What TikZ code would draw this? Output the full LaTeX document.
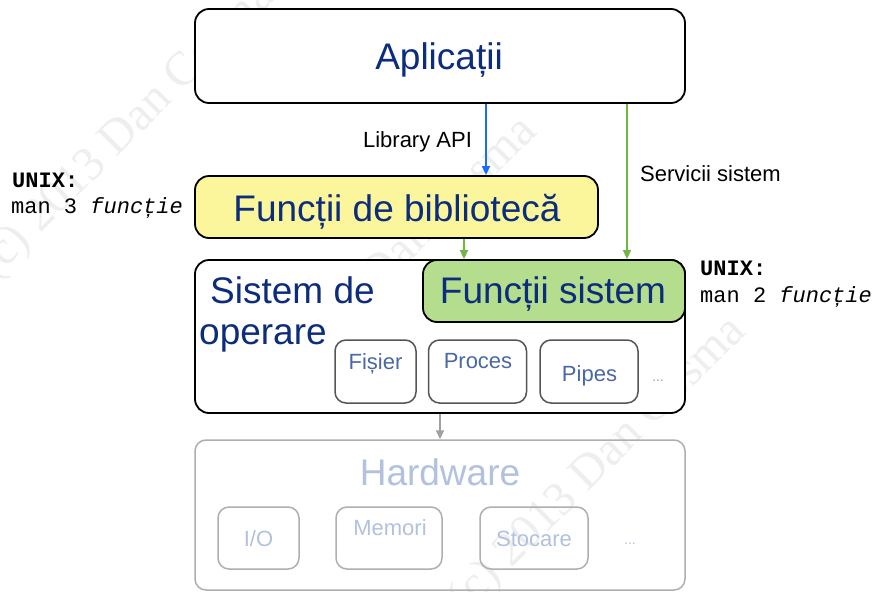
\documentclass[tikz,border=0pt]{standalone}
\usepackage{fontspec}
\setmainfont{Liberation Sans}
\setmonofont{Liberation Mono}
\newfontfamily\wmfont{Liberation Serif}
\usetikzlibrary{arrows.meta}
\definecolor{navy}{RGB}{12,44,124}
\definecolor{midblue}{RGB}{74,104,165}
\definecolor{hwtext}{RGB}{178,193,222}
\definecolor{yellowfill}{RGB}{251,246,155}
\definecolor{greenfill}{RGB}{180,221,142}
\definecolor{arrblue}{RGB}{26,108,255}
\definecolor{arrgreen}{RGB}{112,184,64}
\definecolor{arrgray}{RGB}{160,160,160}
\definecolor{subgray}{RGB}{85,85,85}
\definecolor{hwgray}{RGB}{175,175,175}
\definecolor{wmgray}{RGB}{238,238,238}
\begin{document}
\begin{tikzpicture}[x=1pt,y=-1pt,
  box/.style={draw=black, line width=1.8pt, rounded corners=14pt, inner sep=0pt, fill=white},
  subbox/.style={draw=subgray, line width=1.5pt, rounded corners=11pt, inner sep=0pt, fill=white},
  hwbox/.style={draw=hwgray, line width=1.5pt, rounded corners=11pt, inner sep=0pt},
  big/.style={font=\fontsize{37}{40}\selectfont, text=navy, inner sep=0pt, anchor=base},
  small/.style={font=\fontsize{22}{24}\selectfont, text=midblue, inner sep=0pt, anchor=base},
  hwsmall/.style={font=\fontsize{22}{24}\selectfont, text=hwtext, inner sep=0pt, anchor=base},
  lab/.style={font=\fontsize{22}{24}\selectfont, text=black, inner sep=0pt, anchor=base},
  mono/.style={font=\ttfamily\fontsize{22}{24}\selectfont, text=black, inner sep=0pt, anchor=base west},
  wm/.style={font=\wmfont\fontsize{48}{52}\selectfont, text=wmgray, rotate=45, inner sep=0pt},
  arr/.style={line width=1.5pt, -{Triangle[length=9pt,width=8pt]}}
]
\useasboundingbox (0,0) rectangle (879,592);
\fill[white] (0,0) rectangle (879,592);

% watermarks
\node[wm] (wm1) at (127,131) {(c) 2013 Dan Cosma};
\node[wm] (wm2) at (598,466) {(c) 2013 Dan Cosma};
\node[wm] (wm3) at (389,266) {(c) 2013 Dan Cosma};

% boxes
\node[box, minimum width=490pt, minimum height=94pt] (app) at (440,56) {};
\node[box, fill=yellowfill, minimum width=403pt, minimum height=62pt] (bib) at (396.5,207) {};
\node[box, minimum width=490pt, minimum height=153pt] (so) at (440,336.5) {};
\node[box, fill=greenfill, minimum width=262pt, minimum height=62pt] (fs) at (554,291) {};
\node[subbox, minimum width=81pt, minimum height=63pt] (fis) at (375.5,371.5) {};
\node[subbox, minimum width=98pt, minimum height=63pt] (proc) at (477.5,371.5) {};
\node[subbox, minimum width=98pt, minimum height=63pt] (pip) at (589,371.5) {};
\node[hwbox, minimum width=490pt, minimum height=150pt] (hw) at (440,515) {};
\node[hwbox, minimum width=81pt, minimum height=62pt] (io) at (258.5,538) {};
\node[hwbox, minimum width=106pt, minimum height=62pt] (mem) at (389,538) {};
\node[hwbox, minimum width=108pt, minimum height=62pt] (sto) at (534,538) {};

% texts
\node[big] (tapp) at (439,69) {Aplicații};
\node[big] (tbib) at (397,221) {Funcții de bibliotecă};
\node[big] (tfs) at (553,303) {Funcții sistem};
\node[big, anchor=base west] (tso1) at (210,303) {Sistem de};
\node[big, anchor=base west] (tso2) at (199,344) {operare};
\node[small] (tfis) at (375.5,369) {Fișier};
\node[small] (tproc) at (478,368) {Proces};
\node[small] (tpip) at (589.5,381) {Pipes};
\node[small, font=\fontsize{14}{16}\selectfont, text=midblue!60] (tdots1) at (658,381) {...};
\node[big, text=hwtext] (thw) at (440,485) {Hardware};
\node[hwsmall] (tio) at (258.5,546) {I/O};
\node[hwsmall] (tmem) at (390,535) {Memori};
\node[hwsmall] (tsto) at (534,546) {Stocare};
\node[hwsmall, font=\fontsize{14}{16}\selectfont] (tdots2) at (630,544) {...};

\node[lab] (tlib) at (417.5,147) {Library API};
\node[lab, anchor=base west] (tserv) at (640,181) {Servicii sistem};

\node[mono] (u1) at (12,187) {\textbf{UNIX:}};
\node[mono] (m1) at (11,213) {man 3 \textit{funcție}};
\node[mono] (u2) at (700,275) {\textbf{UNIX:}};
\node[mono] (m2) at (700,302) {man 2 \textit{funcție}};

% connectors
\coordinate (xb) at (486,0);
\coordinate (xg) at (627,0);
\coordinate (xs) at (464,0);
\draw[arr, arrblue] (app.south -| xb) -- (bib.north -| xb);
\draw[arr, arrgreen] (app.south -| xg) -- (fs.north -| xg);
\draw[arr, arrgreen] (bib.south -| xs) -- (so.north -| xs);
\draw[arr, arrgray] (so.south) -- (hw.north);
\end{tikzpicture}
\end{document}
